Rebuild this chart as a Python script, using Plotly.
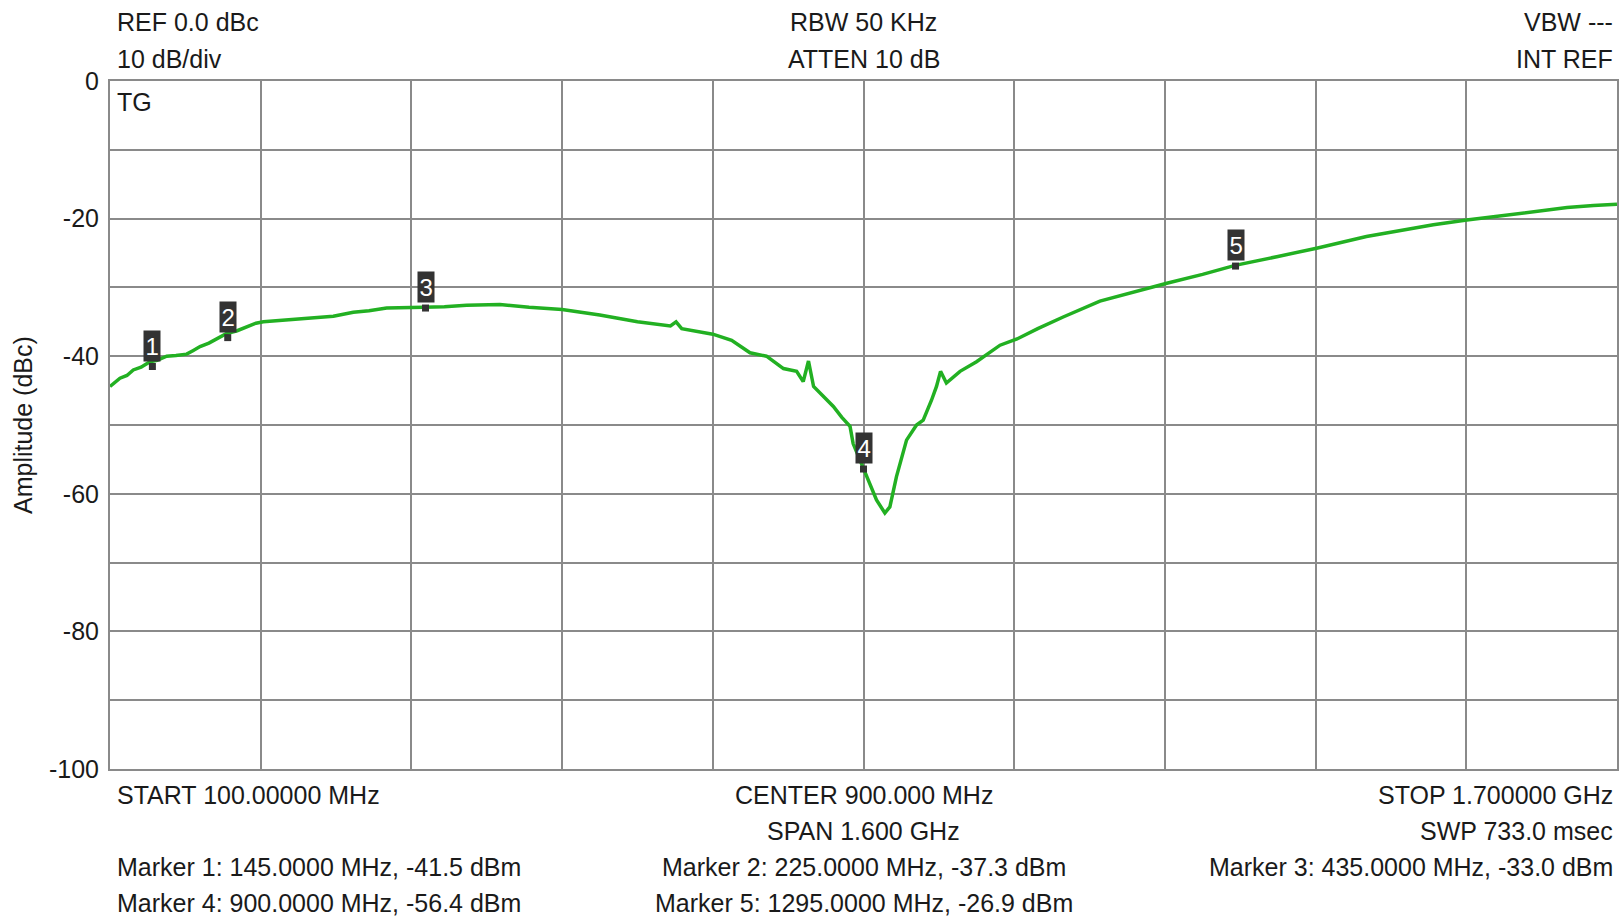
import plotly.graph_objects as go

# Trace (frequency MHz, amplitude dBc)
freq_mhz = [100, 105, 110.6, 118, 124.7, 133, 142.5, 150, 160.2, 170, 181.4, 188, 195.6, 205, 214, 223.9,
            235, 245, 255, 262.8, 280, 301.7, 320, 337.1, 358.3, 375, 393.7, 412, 432.6, 455, 478.6, 514,
            545, 580, 620, 660, 695, 701, 707, 740, 760, 779.5, 797, 815, 829, 836, 841.6, 847, 855.7,
            868, 877, 885.7, 889, 896.4, 905, 913.8, 922.7, 928, 935, 945.7, 956.3, 963.4, 972.2, 977.5,
            981.8, 988, 1002.5, 1020, 1045, 1063, 1085, 1112, 1151, 1167, 1195, 1222, 1260, 1294.5, 1340,
            1381, 1434, 1470, 1505, 1540.5, 1575, 1611, 1647, 1675, 1700]
amp_dbc = [-44.4, -43.9, -43.2, -42.8, -42.0, -41.6, -40.8, -40.6, -40.0, -39.9, -39.7, -39.2, -38.6, -38.1,
           -37.4, -36.7, -36.3, -35.7, -35.2, -35.0, -34.8, -34.5, -34.4, -34.2, -33.6, -33.4, -33.0, -33.0,
           -32.9, -32.8, -32.6, -32.5, -32.9, -33.2, -34.0, -35.0, -35.6, -35.0, -36.0, -36.8, -37.7, -39.5,
           -40.0, -41.8, -42.2, -43.7, -40.7, -44.4, -45.6, -47.3, -48.9, -50.2, -52.7, -55.1, -58.0, -60.9,
           -62.8, -61.9, -57.5, -52.2, -50.0, -49.3, -46.4, -44.4, -42.2, -43.9, -42.2, -40.8, -38.4, -37.5,
           -36.0, -34.3, -32.0, -31.4, -30.3, -29.4, -28.1, -26.8, -25.5, -24.3, -22.6, -21.7, -20.9, -20.2,
           -19.6, -19.0, -18.4, -18.1, -17.9]

marker_ids = ["1", "2", "3", "4", "5"]
marker_freq = [145.0, 225.0, 435.0, 900.0, 1295.0]
marker_amp = [-41.5, -37.3, -33.0, -56.4, -26.9]

y_tickvals = [0, -10, -20, -30, -40, -50, -60, -70, -80, -90, -100]
y_ticktext = ["0", "", "-20", "", "-40", "", "-60", "", "-80", "", "-100"]
x_tickvals = [100, 260, 420, 580, 740, 900, 1060, 1220, 1380, 1540, 1700]

header_left = ["REF 0.0 dBc", "10 dB/div"]
header_center = ["RBW 50 KHz", "ATTEN 10 dB"]
header_right = ["VBW ---", "INT REF"]
footer_left = ["START 100.00000 MHz", "", "Marker 1: 145.0000 MHz, -41.5 dBm", "Marker 4: 900.0000 MHz, -56.4 dBm"]
footer_center = ["CENTER 900.000 MHz", "SPAN 1.600 GHz", "Marker 2: 225.0000 MHz, -37.3 dBm", "Marker 5: 1295.0000 MHz, -26.9 dBm"]
footer_right = ["STOP 1.700000 GHz", "SWP 733.0 msec", "Marker 3: 435.0000 MHz, -33.0 dBm", ""]

FONT = "Liberation Sans, Arial, sans-serif"
TXT = "#1a1a1a"
FS = 25
GRID = "#8a8a8a"

fig = go.Figure()
fig.add_trace(go.Scatter(x=freq_mhz, y=amp_dbc, mode="lines",
                         line=dict(color="#22b022", width=3.5), hoverinfo="skip", showlegend=False))
fig.add_trace(go.Scatter(x=marker_freq, y=marker_amp, mode="markers",
                         marker=dict(symbol="square", size=7, color="#333333"),
                         showlegend=False, hoverinfo="skip"))

anns = []
for mid, mf, ma in zip(marker_ids, marker_freq, marker_amp):
    anns.append(dict(x=mf, y=ma, xref="x", yref="y", text=mid, showarrow=False,
                     yanchor="bottom", yshift=5, bgcolor="#333333", borderpad=1.5,
                     font=dict(family=FONT, size=24, color="white")))

W, H = 1619, 916
L, R, T, B = 110, 2, 81, 147
pw, ph = W - L - R, H - T - B

def py(ypx):
    return (H - B - ypx) / ph

def px(xpx):
    return (xpx - L) / pw

top_rows = [22, 59]
bot_rows = [795, 831, 867, 903]
LEFT_X = 115
RIGHT_X = 1615
for i, t in enumerate(header_left):
    anns.append(dict(x=px(LEFT_X), y=py(top_rows[i]), xref="paper", yref="paper", text=t, showarrow=False,
                     xanchor="left", yanchor="middle", font=dict(family=FONT, size=FS, color=TXT)))
for i, t in enumerate(header_center):
    anns.append(dict(x=0.5, y=py(top_rows[i]), xref="paper", yref="paper", text=t, showarrow=False,
                     xanchor="center", yanchor="middle", font=dict(family=FONT, size=FS, color=TXT)))
for i, t in enumerate(header_right):
    anns.append(dict(x=px(RIGHT_X), y=py(top_rows[i]), xref="paper", yref="paper", text=t, showarrow=False,
                     xanchor="right", yanchor="middle", font=dict(family=FONT, size=FS, color=TXT)))
for i, t in enumerate(footer_left):
    if t:
        anns.append(dict(x=px(LEFT_X), y=py(bot_rows[i]), xref="paper", yref="paper", text=t, showarrow=False,
                         xanchor="left", yanchor="middle", font=dict(family=FONT, size=FS, color=TXT)))
for i, t in enumerate(footer_center):
    if t:
        anns.append(dict(x=0.5, y=py(bot_rows[i]), xref="paper", yref="paper", text=t, showarrow=False,
                         xanchor="center", yanchor="middle", font=dict(family=FONT, size=FS, color=TXT)))
for i, t in enumerate(footer_right):
    if t:
        anns.append(dict(x=px(RIGHT_X), y=py(bot_rows[i]), xref="paper", yref="paper", text=t, showarrow=False,
                         xanchor="right", yanchor="middle", font=dict(family=FONT, size=FS, color=TXT)))

anns.append(dict(x=px(115), y=py(102), xref="paper", yref="paper", text="TG", showarrow=False,
                 xanchor="left", yanchor="middle", font=dict(family=FONT, size=FS, color=TXT)))
anns.append(dict(x=px(23), y=0.5, xref="paper", yref="paper", text="Amplitude (dBc)", showarrow=False,
                 textangle=-90, xanchor="center", yanchor="middle",
                 font=dict(family=FONT, size=25, color=TXT)))

fig.update_layout(
    width=W, height=H,
    margin=dict(l=L, r=R, t=T, b=B, autoexpand=False),
    paper_bgcolor="white", plot_bgcolor="white",
    annotations=anns,
    xaxis=dict(range=[100, 1700], tickvals=x_tickvals, showticklabels=False, ticks="",
               showgrid=True, gridcolor=GRID, gridwidth=2, zeroline=False,
               showline=True, mirror=True, linecolor=GRID, linewidth=2),
    yaxis=dict(range=[-100, 0], tickvals=y_tickvals, ticktext=y_ticktext, ticks="",
               tickfont=dict(family=FONT, size=FS, color=TXT), ticklabelstandoff=4,
               showgrid=True, gridcolor=GRID, gridwidth=2, zeroline=False,
               showline=True, mirror=True, linecolor=GRID, linewidth=2),
)

fig.write_html("out.html", config={"displayModeBar": False},
               post_script="document.body.style.margin='0';document.body.style.overflow='hidden';")
